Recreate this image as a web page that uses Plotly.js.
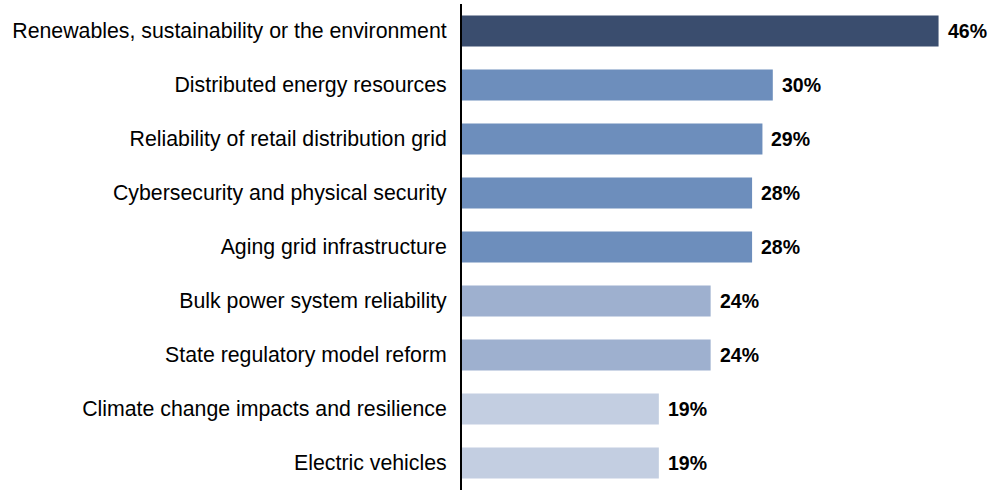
<!DOCTYPE html>
<html>
<head>
<meta charset="utf-8">
<script src="https://cdn.plot.ly/plotly-3.0.1.min.js"></script>
<style>
  html, body { margin: 0; padding: 0; background: #fff; }
  #chart { width: 1000px; height: 490px; }
</style>
</head>
<body>
<div id="chart"></div>
<script>
// Survey topics, top to bottom
const categories = [
  "Renewables, sustainability or the environment",
  "Distributed energy resources",
  "Reliability of retail distribution grid",
  "Cybersecurity and physical security",
  "Aging grid infrastructure",
  "Bulk power system reliability",
  "State regulatory model reform",
  "Climate change impacts and resilience",
  "Electric vehicles"
];
const values = [46, 30, 29, 28, 28, 24, 24, 19, 19];
const valueLabels = ["46%", "30%", "29%", "28%", "28%", "24%", "24%", "19%", "19%"];
const barColors = ["#3A4D6E", "#6D8EBC", "#6D8EBC", "#6D8EBC", "#6D8EBC",
                   "#9EB0CF", "#9EB0CF", "#C3CEE1", "#C3CEE1"];

const FONT = "Liberation Sans, Arial, sans-serif";

const trace = {
  type: "bar",
  orientation: "h",
  y: categories,
  x: values,
  marker: { color: barColors, line: { width: 0 } },
  width: 0.575,
  hoverinfo: "none"
};

// Bold percentage labels just past the end of each bar
const annotations = categories.map((c, i) => ({
  x: values[i],
  y: c,
  xref: "x",
  yref: "y",
  text: "<b>" + valueLabels[i] + "</b>",
  showarrow: false,
  xanchor: "left",
  yanchor: "middle",
  xshift: 7,
  font: { family: FONT, size: 19.5, color: "#000" }
}));

const layout = {
  width: 1000,
  height: 490,
  margin: { l: 462, r: 20, t: 4, b: 0, pad: 0 },
  paper_bgcolor: "#ffffff",
  plot_bgcolor: "#ffffff",
  showlegend: false,
  font: { family: FONT, size: 21.3, color: "#000" },
  xaxis: {
    range: [0, 50],
    showgrid: false,
    zeroline: false,
    showline: false,
    showticklabels: false,
    ticks: ""
  },
  yaxis: {
    autorange: "reversed",
    showgrid: false,
    zeroline: false,
    showline: true,
    linecolor: "#000",
    linewidth: 2,
    ticks: "",
    ticklabelstandoff: 9,
    tickfont: { family: FONT, size: 21.3, color: "#000" }
  },
  annotations: annotations
};

Plotly.newPlot("chart", [trace], layout, { displayModeBar: false, staticPlot: true });
</script>
</body>
</html>
